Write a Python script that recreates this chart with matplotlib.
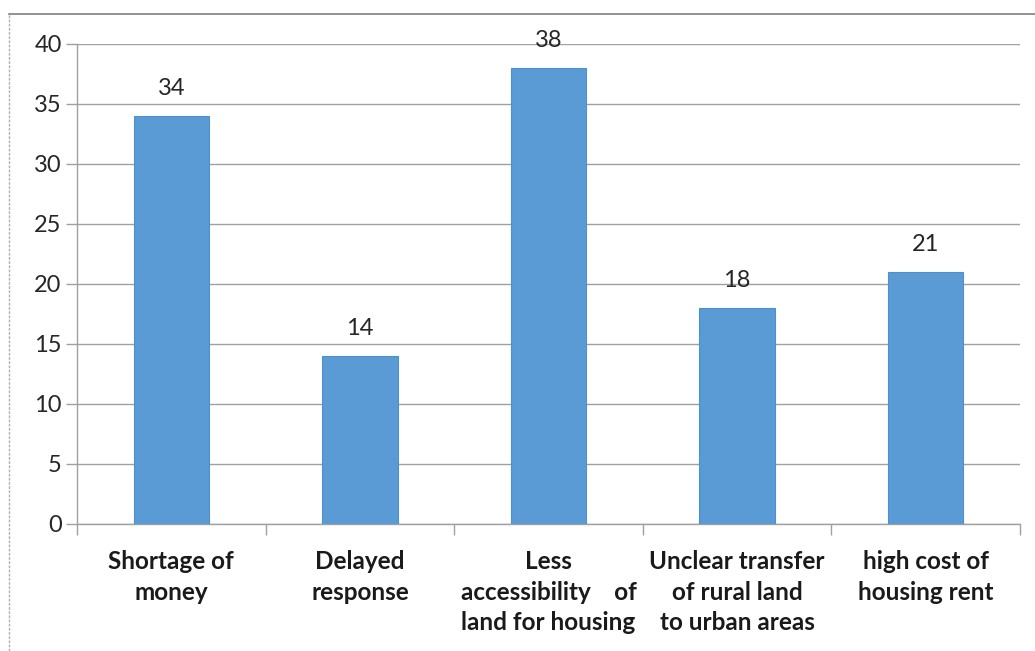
import matplotlib
matplotlib.use("Agg")
import matplotlib.pyplot as plt
from matplotlib.lines import Line2D
import numpy as np

categories = [
    "Shortage of\nmoney",
    "Delayed\nresponse",
    "Less\naccessibility    of\nland for housing",
    "Unclear transfer\nof rural land\nto urban areas",
    "high cost of\nhousing rent",
]
values = [34, 14, 38, 18, 21]
yticks = [0, 5, 10, 15, 20, 25, 30, 35, 40]

plt.rcParams["font.family"] = ["Lato", "DejaVu Sans"]

W, H = 1035, 651
fig = plt.figure(figsize=(W / 100, H / 100), dpi=100)
ax = fig.add_axes([77 / W, 1 - 524 / H, (1020 - 77) / W, (524 - 44) / H])

x = np.arange(len(values))
bar_color = "#5B9BD5"
bars = ax.bar(x, values, width=0.4, color=bar_color, edgecolor="#4F8FCB",
              linewidth=0.8, zorder=3)

for xi, v in zip(x, values):
    ax.annotate(str(v), (xi, v), xytext=(0, 12), textcoords="offset points",
                ha="center", va="bottom", fontsize=17, color="#262626", zorder=4)

ax.set_xlim(-0.5, len(values) - 0.5)
ax.set_ylim(0, 40)
ax.set_yticks(yticks)
ax.set_yticklabels([str(t) for t in yticks], fontsize=17, color="#262626")
ax.yaxis.grid(True, color="#a0a0a0", linewidth=1.0, zorder=0)
ax.tick_params(axis="y", length=8, width=1.0, color="#a0a0a0", pad=3)

# category labels between boundary ticks
ax.set_xticks(x)
ax.set_xticklabels(categories, fontsize=17.5, fontweight="bold", color="#1a1a1a",
                   linespacing=1.38)
ax.tick_params(axis="x", length=0, pad=19)
ax.set_xticks(np.arange(len(values) + 1) - 0.5, minor=True)
ax.tick_params(axis="x", which="minor", length=8, width=1.0, color="#a0a0a0")

for s in ["top", "right"]:
    ax.spines[s].set_visible(False)
for s in ["left", "bottom"]:
    ax.spines[s].set_color("#a0a0a0")
    ax.spines[s].set_linewidth(1.0)

# outer chart-area frame
fig.add_artist(Line2D([9 / W, 1.0], [1 - 14 / H, 1 - 14 / H], transform=fig.transFigure,
                      color="#7f7f7f", linewidth=1.2))
fig.add_artist(Line2D([9 / W, 9 / W], [0, 1 - 14 / H], transform=fig.transFigure,
                      color="#b0b0b0", linewidth=1.0, linestyle=(0, (2, 1))))

fig.savefig("out.png", dpi=100)
